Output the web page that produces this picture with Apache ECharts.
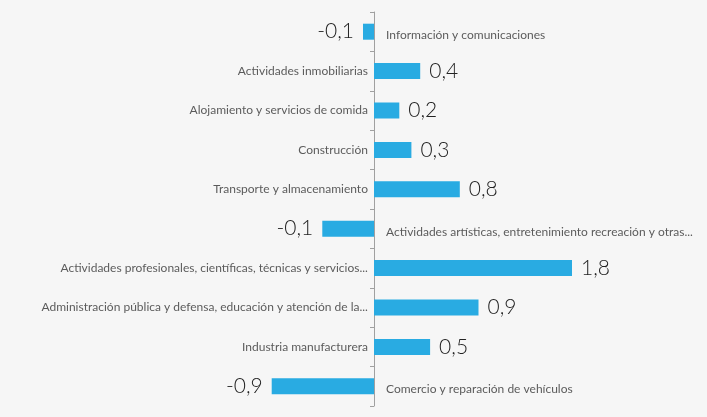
<!DOCTYPE html>
<html>
<head>
<meta charset="utf-8">
<script src="https://cdn.jsdelivr.net/npm/echarts@6/dist/echarts.min.js"></script>
<style>
  html, body { margin: 0; padding: 0; background: #f6f6f6; }
  #main { width: 707px; height: 417px; }
</style>
</head>
<body>
<div id="main"></div>
<script>
var categories = [
    'Información y comunicaciones',
    'Actividades inmobiliarias',
    'Alojamiento y servicios de comida',
    'Construcción',
    'Transporte y almacenamiento',
    'Actividades artísticas, entretenimiento recreación y otras...',
    'Actividades profesionales, científicas, técnicas y servicios...',
    'Administración pública y defensa, educación y atención de la...',
    'Industria manufacturera',
    'Comercio y reparación de vehículos'
];
// bar lengths as drawn
var values = [-0.1, 0.42, 0.23, 0.34, 0.78, -0.47, 1.8, 0.95, 0.51, -0.93];
// printed labels
var valueLabels = ['-0,1', '0,4', '0,2', '0,3', '0,8', '-0,1', '1,8', '0,9', '0,5', '-0,9'];

var myChart = echarts.init(document.getElementById('main'));

var barData = values.map(function (v) {
    return {
        value: v,
        label: { position: v < 0 ? 'left' : 'right' }
    };
});

// category names sit on the side of the zero line away from the bar
var nameData = values.map(function (v, i) {
    return {
        value: [0, i],
        label: v < 0
            ? { position: 'right', distance: 12, offset: [0, 3] }
            : { position: 'left', distance: 6, offset: [0, 0] }
    };
});

var option = {
    backgroundColor: '#f6f6f6',
    grid: { left: 264, width: 330, top: 12, bottom: 11, outerBoundsMode: 'none' },
    xAxis: {
        type: 'value',
        min: -1,
        max: 2,
        show: false
    },
    yAxis: {
        type: 'category',
        inverse: true,
        data: categories,
        axisLine: { onZero: true, lineStyle: { color: '#a0a0a0', width: 1 } },
        axisTick: { show: true, length: 4, lineStyle: { color: '#a0a0a0' } },
        axisLabel: { show: false }
    },
    series: [{
        type: 'bar',
        data: barData,
        barWidth: 16,
        itemStyle: { color: '#29abe2' },
        label: {
            show: true,
            distance: 9,
            fontFamily: 'Lato',
            fontWeight: 300,
            fontSize: 21,
            color: '#222',
            formatter: function (p) { return valueLabels[p.dataIndex]; }
        }
    }, {
        type: 'scatter',
        data: nameData,
        symbolSize: 0.1,
        itemStyle: { color: 'transparent' },
        silent: true,
        label: {
            show: true,
            fontFamily: 'Lato',
            fontSize: 12,
            color: '#333',
            formatter: function (p) { return categories[p.value[1]]; }
        }
    }]
};

myChart.setOption(option);
</script>
</body>
</html>
